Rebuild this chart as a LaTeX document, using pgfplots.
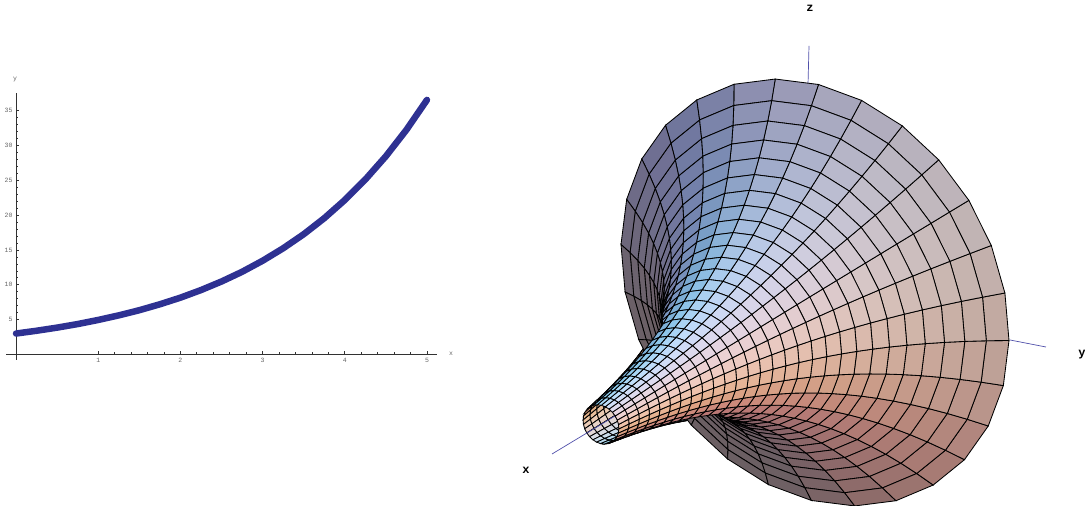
\documentclass[border=0pt]{standalone}
\usepackage{fontspec}
\setmainfont{Liberation Mono}
\usepackage{pgfplots}
\pgfplotsset{compat=1.18}

% grid of the surface: ring i, meridian j, radius r
\def\tc{cos(\thisrow{j}*90/7)}
\def\ts{sin(\thisrow{j}*90/7)}
\def\tk{(0.0414*\thisrow{r})}
\def\tn{sqrt(1+\tk*\tk)}
\def\tF{(1/(1+\tk*\tk))}
\def\tz{(0.459*\tc+0.387*\ts+0.803*\tk)}
\def\tf{(\tz/abs(\tz))}
\def\nr{pos(\tf*(0.936*\tc+0.285*\ts+0.209*\tk)/\tn)}
\def\ng{pos(\tf*(0.640*\tc+0.767*\ts-0.018*\tk)/\tn)}
\def\nb{pos(\tf*(0.173*\tc+0.928*\ts+0.337*\tk)/\tn)}
\def\bo{(\tF*\nb*(1-\nr))}
\def\cR{0.42+(0.8+0.3*\tF)*(0.24*\nr+0.24*sqrt(\nr))+0.10*\bo}
\def\cG{0.34+0.05*(1-\tF)+0.25*\nr+0.25*\ng+0.40*\bo}
\def\cB{0.39+(0.7+0.45*\tF)*0.38*\nb+0.14*\nr+0.20*\bo}
\def\W{(1/(1-0.1095*\thisrow{i}/28))}
\def\px{815+\W*(-190.6*\thisrow{i}/28+\thisrow{r}/36.55*(194*\tc+3.5*\ts))}
\def\py{506-(292.5+\W*(117.5*\thisrow{i}/28+\thisrow{r}/36.55*(48*\tc-208*\ts)))}

\definecolor{curve}{RGB}{46,49,146}
\definecolor{axblue}{RGB}{80,80,170}
\definecolor{axgray}{RGB}{50,50,50}

\begin{document}
\begin{tikzpicture}[x=1pt,y=1pt,declare function={pos(\a)=(\a+abs(\a))/2;}]
\path[use as bounding box] (0,0) rectangle (1085,506);

\begin{axis}[
  at={(6pt,146pt)}, anchor=south west, scale only axis,
  width=431pt, height=266.7pt,
  xmin=-0.122, xmax=5.122, ymin=-0.8, ymax=37.5,
  axis lines=middle, axis line style={-,axgray,line width=0.8pt},
  xtick={1,2,3,4,5}, ytick={5,10,15,20,25,30,35},
  minor x tick num=4, minor y tick num=4,
  tick align=inside, tick style={axgray,line width=0.7pt},
  major tick length=3pt, minor tick length=2pt,
  tick label style={font=\fontsize{6.5}{6.5}\selectfont, text=black!60},
  /pgf/number format/assume math mode=true,
  clip=false,
]
\addplot[color=curve, line width=6.5pt, line cap=round, line join=round] coordinates {
  (0,3.00)(0.25,3.40)(0.5,3.85)(0.75,4.36)(1,4.95)(1.25,5.61)(1.5,6.35)
  (1.75,7.20)(2,8.15)(2.25,9.24)(2.5,10.47)(2.75,11.86)(3,13.45)(3.25,15.24)
  (3.5,17.26)(3.75,19.56)(4,22.17)(4.25,25.12)(4.5,28.46)(4.75,32.25)(5,36.55)
};
\end{axis}
\node[font=\fontsize{6.5}{6.5}\selectfont, text=black!60] at (15,427) {y};
\node[font=\fontsize{6.5}{6.5}\selectfont, text=black!60] at (451,152) {x};

\begin{axis}[
  at={(0,0)}, anchor=south west, scale only axis,
  width=1085pt, height=506pt,
  xmin=0, xmax=1085, ymin=0, ymax=506, zmin=-1, zmax=1,
  view={0}{90}, hide axis, clip=false,
  horn/.style={surf, shader=faceted, faceted color=black, line width=0.85pt,
    mesh/rows=29, mesh/cols=15,
    mesh/color input=explicit mathparse,
    point meta={symbolic={\cR,\cG,\cB}}},
]
% lower left half, far from the viewer
\addplot3[horn] table[x expr=\px, y expr=\py, z expr=0, row sep=\\] {
i j r\\
0 10 36.55\\0 11 36.55\\0 12 36.55\\0 13 36.55\\0 14 36.55\\0 15 36.55\\0 16 36.55\\0 17 36.55\\0 18 36.55\\0 19 36.55\\0 20 36.55\\0 21 36.55\\0 22 36.55\\0 23 36.55\\0 24 36.55\\
1 10 33.43\\1 11 33.43\\1 12 33.43\\1 13 33.43\\1 14 33.43\\1 15 33.43\\1 16 33.43\\1 17 33.43\\1 18 33.43\\1 19 33.43\\1 20 33.43\\1 21 33.43\\1 22 33.43\\1 23 33.43\\1 24 33.43\\
2 10 30.57\\2 11 30.57\\2 12 30.57\\2 13 30.57\\2 14 30.57\\2 15 30.57\\2 16 30.57\\2 17 30.57\\2 18 30.57\\2 19 30.57\\2 20 30.57\\2 21 30.57\\2 22 30.57\\2 23 30.57\\2 24 30.57\\
3 10 27.96\\3 11 27.96\\3 12 27.96\\3 13 27.96\\3 14 27.96\\3 15 27.96\\3 16 27.96\\3 17 27.96\\3 18 27.96\\3 19 27.96\\3 20 27.96\\3 21 27.96\\3 22 27.96\\3 23 27.96\\3 24 27.96\\
4 10 25.57\\4 11 25.57\\4 12 25.57\\4 13 25.57\\4 14 25.57\\4 15 25.57\\4 16 25.57\\4 17 25.57\\4 18 25.57\\4 19 25.57\\4 20 25.57\\4 21 25.57\\4 22 25.57\\4 23 25.57\\4 24 25.57\\
5 10 23.39\\5 11 23.39\\5 12 23.39\\5 13 23.39\\5 14 23.39\\5 15 23.39\\5 16 23.39\\5 17 23.39\\5 18 23.39\\5 19 23.39\\5 20 23.39\\5 21 23.39\\5 22 23.39\\5 23 23.39\\5 24 23.39\\
6 10 21.39\\6 11 21.39\\6 12 21.39\\6 13 21.39\\6 14 21.39\\6 15 21.39\\6 16 21.39\\6 17 21.39\\6 18 21.39\\6 19 21.39\\6 20 21.39\\6 21 21.39\\6 22 21.39\\6 23 21.39\\6 24 21.39\\
7 10 19.56\\7 11 19.56\\7 12 19.56\\7 13 19.56\\7 14 19.56\\7 15 19.56\\7 16 19.56\\7 17 19.56\\7 18 19.56\\7 19 19.56\\7 20 19.56\\7 21 19.56\\7 22 19.56\\7 23 19.56\\7 24 19.56\\
8 10 17.89\\8 11 17.89\\8 12 17.89\\8 13 17.89\\8 14 17.89\\8 15 17.89\\8 16 17.89\\8 17 17.89\\8 18 17.89\\8 19 17.89\\8 20 17.89\\8 21 17.89\\8 22 17.89\\8 23 17.89\\8 24 17.89\\
9 10 16.36\\9 11 16.36\\9 12 16.36\\9 13 16.36\\9 14 16.36\\9 15 16.36\\9 16 16.36\\9 17 16.36\\9 18 16.36\\9 19 16.36\\9 20 16.36\\9 21 16.36\\9 22 16.36\\9 23 16.36\\9 24 16.36\\
10 10 14.96\\10 11 14.96\\10 12 14.96\\10 13 14.96\\10 14 14.96\\10 15 14.96\\10 16 14.96\\10 17 14.96\\10 18 14.96\\10 19 14.96\\10 20 14.96\\10 21 14.96\\10 22 14.96\\10 23 14.96\\10 24 14.96\\
11 10 13.68\\11 11 13.68\\11 12 13.68\\11 13 13.68\\11 14 13.68\\11 15 13.68\\11 16 13.68\\11 17 13.68\\11 18 13.68\\11 19 13.68\\11 20 13.68\\11 21 13.68\\11 22 13.68\\11 23 13.68\\11 24 13.68\\
12 10 12.51\\12 11 12.51\\12 12 12.51\\12 13 12.51\\12 14 12.51\\12 15 12.51\\12 16 12.51\\12 17 12.51\\12 18 12.51\\12 19 12.51\\12 20 12.51\\12 21 12.51\\12 22 12.51\\12 23 12.51\\12 24 12.51\\
13 10 11.45\\13 11 11.45\\13 12 11.45\\13 13 11.45\\13 14 11.45\\13 15 11.45\\13 16 11.45\\13 17 11.45\\13 18 11.45\\13 19 11.45\\13 20 11.45\\13 21 11.45\\13 22 11.45\\13 23 11.45\\13 24 11.45\\
14 10 10.47\\14 11 10.47\\14 12 10.47\\14 13 10.47\\14 14 10.47\\14 15 10.47\\14 16 10.47\\14 17 10.47\\14 18 10.47\\14 19 10.47\\14 20 10.47\\14 21 10.47\\14 22 10.47\\14 23 10.47\\14 24 10.47\\
15 10 9.57\\15 11 9.57\\15 12 9.57\\15 13 9.57\\15 14 9.57\\15 15 9.57\\15 16 9.57\\15 17 9.57\\15 18 9.57\\15 19 9.57\\15 20 9.57\\15 21 9.57\\15 22 9.57\\15 23 9.57\\15 24 9.57\\
16 10 8.76\\16 11 8.76\\16 12 8.76\\16 13 8.76\\16 14 8.76\\16 15 8.76\\16 16 8.76\\16 17 8.76\\16 18 8.76\\16 19 8.76\\16 20 8.76\\16 21 8.76\\16 22 8.76\\16 23 8.76\\16 24 8.76\\
17 10 8.01\\17 11 8.01\\17 12 8.01\\17 13 8.01\\17 14 8.01\\17 15 8.01\\17 16 8.01\\17 17 8.01\\17 18 8.01\\17 19 8.01\\17 20 8.01\\17 21 8.01\\17 22 8.01\\17 23 8.01\\17 24 8.01\\
18 10 7.33\\18 11 7.33\\18 12 7.33\\18 13 7.33\\18 14 7.33\\18 15 7.33\\18 16 7.33\\18 17 7.33\\18 18 7.33\\18 19 7.33\\18 20 7.33\\18 21 7.33\\18 22 7.33\\18 23 7.33\\18 24 7.33\\
19 10 6.70\\19 11 6.70\\19 12 6.70\\19 13 6.70\\19 14 6.70\\19 15 6.70\\19 16 6.70\\19 17 6.70\\19 18 6.70\\19 19 6.70\\19 20 6.70\\19 21 6.70\\19 22 6.70\\19 23 6.70\\19 24 6.70\\
20 10 6.13\\20 11 6.13\\20 12 6.13\\20 13 6.13\\20 14 6.13\\20 15 6.13\\20 16 6.13\\20 17 6.13\\20 18 6.13\\20 19 6.13\\20 20 6.13\\20 21 6.13\\20 22 6.13\\20 23 6.13\\20 24 6.13\\
21 10 5.60\\21 11 5.60\\21 12 5.60\\21 13 5.60\\21 14 5.60\\21 15 5.60\\21 16 5.60\\21 17 5.60\\21 18 5.60\\21 19 5.60\\21 20 5.60\\21 21 5.60\\21 22 5.60\\21 23 5.60\\21 24 5.60\\
22 10 5.12\\22 11 5.12\\22 12 5.12\\22 13 5.12\\22 14 5.12\\22 15 5.12\\22 16 5.12\\22 17 5.12\\22 18 5.12\\22 19 5.12\\22 20 5.12\\22 21 5.12\\22 22 5.12\\22 23 5.12\\22 24 5.12\\
23 10 4.69\\23 11 4.69\\23 12 4.69\\23 13 4.69\\23 14 4.69\\23 15 4.69\\23 16 4.69\\23 17 4.69\\23 18 4.69\\23 19 4.69\\23 20 4.69\\23 21 4.69\\23 22 4.69\\23 23 4.69\\23 24 4.69\\
24 10 4.29\\24 11 4.29\\24 12 4.29\\24 13 4.29\\24 14 4.29\\24 15 4.29\\24 16 4.29\\24 17 4.29\\24 18 4.29\\24 19 4.29\\24 20 4.29\\24 21 4.29\\24 22 4.29\\24 23 4.29\\24 24 4.29\\
25 10 3.92\\25 11 3.92\\25 12 3.92\\25 13 3.92\\25 14 3.92\\25 15 3.92\\25 16 3.92\\25 17 3.92\\25 18 3.92\\25 19 3.92\\25 20 3.92\\25 21 3.92\\25 22 3.92\\25 23 3.92\\25 24 3.92\\
26 10 3.59\\26 11 3.59\\26 12 3.59\\26 13 3.59\\26 14 3.59\\26 15 3.59\\26 16 3.59\\26 17 3.59\\26 18 3.59\\26 19 3.59\\26 20 3.59\\26 21 3.59\\26 22 3.59\\26 23 3.59\\26 24 3.59\\
27 10 3.28\\27 11 3.28\\27 12 3.28\\27 13 3.28\\27 14 3.28\\27 15 3.28\\27 16 3.28\\27 17 3.28\\27 18 3.28\\27 19 3.28\\27 20 3.28\\27 21 3.28\\27 22 3.28\\27 23 3.28\\27 24 3.28\\
28 10 3.00\\28 11 3.00\\28 12 3.00\\28 13 3.00\\28 14 3.00\\28 15 3.00\\28 16 3.00\\28 17 3.00\\28 18 3.00\\28 19 3.00\\28 20 3.00\\28 21 3.00\\28 22 3.00\\28 23 3.00\\28 24 3.00\\
};
% coordinate axes
\addplot3[color=axblue, line width=0.7pt] coordinates {(552,52,0)(615,90,0)};
\addplot3[color=axblue, line width=0.7pt] coordinates {(1010,166,0)(1046,159,0)};
\addplot3[color=axblue, line width=0.7pt] coordinates {(809,460,0)(808,421,0)};
% upper right half, near the viewer
\addplot3[horn] table[x expr=\px, y expr=\py, z expr=0, row sep=\\] {
i j r\\
0 -4 36.55\\0 -3 36.55\\0 -2 36.55\\0 -1 36.55\\0 0 36.55\\0 1 36.55\\0 2 36.55\\0 3 36.55\\0 4 36.55\\0 5 36.55\\0 6 36.55\\0 7 36.55\\0 8 36.55\\0 9 36.55\\0 10 36.55\\
1 -4 33.43\\1 -3 33.43\\1 -2 33.43\\1 -1 33.43\\1 0 33.43\\1 1 33.43\\1 2 33.43\\1 3 33.43\\1 4 33.43\\1 5 33.43\\1 6 33.43\\1 7 33.43\\1 8 33.43\\1 9 33.43\\1 10 33.43\\
2 -4 30.57\\2 -3 30.57\\2 -2 30.57\\2 -1 30.57\\2 0 30.57\\2 1 30.57\\2 2 30.57\\2 3 30.57\\2 4 30.57\\2 5 30.57\\2 6 30.57\\2 7 30.57\\2 8 30.57\\2 9 30.57\\2 10 30.57\\
3 -4 27.96\\3 -3 27.96\\3 -2 27.96\\3 -1 27.96\\3 0 27.96\\3 1 27.96\\3 2 27.96\\3 3 27.96\\3 4 27.96\\3 5 27.96\\3 6 27.96\\3 7 27.96\\3 8 27.96\\3 9 27.96\\3 10 27.96\\
4 -4 25.57\\4 -3 25.57\\4 -2 25.57\\4 -1 25.57\\4 0 25.57\\4 1 25.57\\4 2 25.57\\4 3 25.57\\4 4 25.57\\4 5 25.57\\4 6 25.57\\4 7 25.57\\4 8 25.57\\4 9 25.57\\4 10 25.57\\
5 -4 23.39\\5 -3 23.39\\5 -2 23.39\\5 -1 23.39\\5 0 23.39\\5 1 23.39\\5 2 23.39\\5 3 23.39\\5 4 23.39\\5 5 23.39\\5 6 23.39\\5 7 23.39\\5 8 23.39\\5 9 23.39\\5 10 23.39\\
6 -4 21.39\\6 -3 21.39\\6 -2 21.39\\6 -1 21.39\\6 0 21.39\\6 1 21.39\\6 2 21.39\\6 3 21.39\\6 4 21.39\\6 5 21.39\\6 6 21.39\\6 7 21.39\\6 8 21.39\\6 9 21.39\\6 10 21.39\\
7 -4 19.56\\7 -3 19.56\\7 -2 19.56\\7 -1 19.56\\7 0 19.56\\7 1 19.56\\7 2 19.56\\7 3 19.56\\7 4 19.56\\7 5 19.56\\7 6 19.56\\7 7 19.56\\7 8 19.56\\7 9 19.56\\7 10 19.56\\
8 -4 17.89\\8 -3 17.89\\8 -2 17.89\\8 -1 17.89\\8 0 17.89\\8 1 17.89\\8 2 17.89\\8 3 17.89\\8 4 17.89\\8 5 17.89\\8 6 17.89\\8 7 17.89\\8 8 17.89\\8 9 17.89\\8 10 17.89\\
9 -4 16.36\\9 -3 16.36\\9 -2 16.36\\9 -1 16.36\\9 0 16.36\\9 1 16.36\\9 2 16.36\\9 3 16.36\\9 4 16.36\\9 5 16.36\\9 6 16.36\\9 7 16.36\\9 8 16.36\\9 9 16.36\\9 10 16.36\\
10 -4 14.96\\10 -3 14.96\\10 -2 14.96\\10 -1 14.96\\10 0 14.96\\10 1 14.96\\10 2 14.96\\10 3 14.96\\10 4 14.96\\10 5 14.96\\10 6 14.96\\10 7 14.96\\10 8 14.96\\10 9 14.96\\10 10 14.96\\
11 -4 13.68\\11 -3 13.68\\11 -2 13.68\\11 -1 13.68\\11 0 13.68\\11 1 13.68\\11 2 13.68\\11 3 13.68\\11 4 13.68\\11 5 13.68\\11 6 13.68\\11 7 13.68\\11 8 13.68\\11 9 13.68\\11 10 13.68\\
12 -4 12.51\\12 -3 12.51\\12 -2 12.51\\12 -1 12.51\\12 0 12.51\\12 1 12.51\\12 2 12.51\\12 3 12.51\\12 4 12.51\\12 5 12.51\\12 6 12.51\\12 7 12.51\\12 8 12.51\\12 9 12.51\\12 10 12.51\\
13 -4 11.45\\13 -3 11.45\\13 -2 11.45\\13 -1 11.45\\13 0 11.45\\13 1 11.45\\13 2 11.45\\13 3 11.45\\13 4 11.45\\13 5 11.45\\13 6 11.45\\13 7 11.45\\13 8 11.45\\13 9 11.45\\13 10 11.45\\
14 -4 10.47\\14 -3 10.47\\14 -2 10.47\\14 -1 10.47\\14 0 10.47\\14 1 10.47\\14 2 10.47\\14 3 10.47\\14 4 10.47\\14 5 10.47\\14 6 10.47\\14 7 10.47\\14 8 10.47\\14 9 10.47\\14 10 10.47\\
15 -4 9.57\\15 -3 9.57\\15 -2 9.57\\15 -1 9.57\\15 0 9.57\\15 1 9.57\\15 2 9.57\\15 3 9.57\\15 4 9.57\\15 5 9.57\\15 6 9.57\\15 7 9.57\\15 8 9.57\\15 9 9.57\\15 10 9.57\\
16 -4 8.76\\16 -3 8.76\\16 -2 8.76\\16 -1 8.76\\16 0 8.76\\16 1 8.76\\16 2 8.76\\16 3 8.76\\16 4 8.76\\16 5 8.76\\16 6 8.76\\16 7 8.76\\16 8 8.76\\16 9 8.76\\16 10 8.76\\
17 -4 8.01\\17 -3 8.01\\17 -2 8.01\\17 -1 8.01\\17 0 8.01\\17 1 8.01\\17 2 8.01\\17 3 8.01\\17 4 8.01\\17 5 8.01\\17 6 8.01\\17 7 8.01\\17 8 8.01\\17 9 8.01\\17 10 8.01\\
18 -4 7.33\\18 -3 7.33\\18 -2 7.33\\18 -1 7.33\\18 0 7.33\\18 1 7.33\\18 2 7.33\\18 3 7.33\\18 4 7.33\\18 5 7.33\\18 6 7.33\\18 7 7.33\\18 8 7.33\\18 9 7.33\\18 10 7.33\\
19 -4 6.70\\19 -3 6.70\\19 -2 6.70\\19 -1 6.70\\19 0 6.70\\19 1 6.70\\19 2 6.70\\19 3 6.70\\19 4 6.70\\19 5 6.70\\19 6 6.70\\19 7 6.70\\19 8 6.70\\19 9 6.70\\19 10 6.70\\
20 -4 6.13\\20 -3 6.13\\20 -2 6.13\\20 -1 6.13\\20 0 6.13\\20 1 6.13\\20 2 6.13\\20 3 6.13\\20 4 6.13\\20 5 6.13\\20 6 6.13\\20 7 6.13\\20 8 6.13\\20 9 6.13\\20 10 6.13\\
21 -4 5.60\\21 -3 5.60\\21 -2 5.60\\21 -1 5.60\\21 0 5.60\\21 1 5.60\\21 2 5.60\\21 3 5.60\\21 4 5.60\\21 5 5.60\\21 6 5.60\\21 7 5.60\\21 8 5.60\\21 9 5.60\\21 10 5.60\\
22 -4 5.12\\22 -3 5.12\\22 -2 5.12\\22 -1 5.12\\22 0 5.12\\22 1 5.12\\22 2 5.12\\22 3 5.12\\22 4 5.12\\22 5 5.12\\22 6 5.12\\22 7 5.12\\22 8 5.12\\22 9 5.12\\22 10 5.12\\
23 -4 4.69\\23 -3 4.69\\23 -2 4.69\\23 -1 4.69\\23 0 4.69\\23 1 4.69\\23 2 4.69\\23 3 4.69\\23 4 4.69\\23 5 4.69\\23 6 4.69\\23 7 4.69\\23 8 4.69\\23 9 4.69\\23 10 4.69\\
24 -4 4.29\\24 -3 4.29\\24 -2 4.29\\24 -1 4.29\\24 0 4.29\\24 1 4.29\\24 2 4.29\\24 3 4.29\\24 4 4.29\\24 5 4.29\\24 6 4.29\\24 7 4.29\\24 8 4.29\\24 9 4.29\\24 10 4.29\\
25 -4 3.92\\25 -3 3.92\\25 -2 3.92\\25 -1 3.92\\25 0 3.92\\25 1 3.92\\25 2 3.92\\25 3 3.92\\25 4 3.92\\25 5 3.92\\25 6 3.92\\25 7 3.92\\25 8 3.92\\25 9 3.92\\25 10 3.92\\
26 -4 3.59\\26 -3 3.59\\26 -2 3.59\\26 -1 3.59\\26 0 3.59\\26 1 3.59\\26 2 3.59\\26 3 3.59\\26 4 3.59\\26 5 3.59\\26 6 3.59\\26 7 3.59\\26 8 3.59\\26 9 3.59\\26 10 3.59\\
27 -4 3.28\\27 -3 3.28\\27 -2 3.28\\27 -1 3.28\\27 0 3.28\\27 1 3.28\\27 2 3.28\\27 3 3.28\\27 4 3.28\\27 5 3.28\\27 6 3.28\\27 7 3.28\\27 8 3.28\\27 9 3.28\\27 10 3.28\\
28 -4 3.00\\28 -3 3.00\\28 -2 3.00\\28 -1 3.00\\28 0 3.00\\28 1 3.00\\28 2 3.00\\28 3 3.00\\28 4 3.00\\28 5 3.00\\28 6 3.00\\28 7 3.00\\28 8 3.00\\28 9 3.00\\28 10 3.00\\
};
\end{axis}
\node[font=\fontsize{12}{12}\selectfont\bfseries] at (810,498) {z};
\node[font=\fontsize{12}{12}\selectfont\bfseries] at (1082,151) {y};
\node[font=\fontsize{12}{12}\selectfont\bfseries] at (526,36) {x};
\end{tikzpicture}
\end{document}
